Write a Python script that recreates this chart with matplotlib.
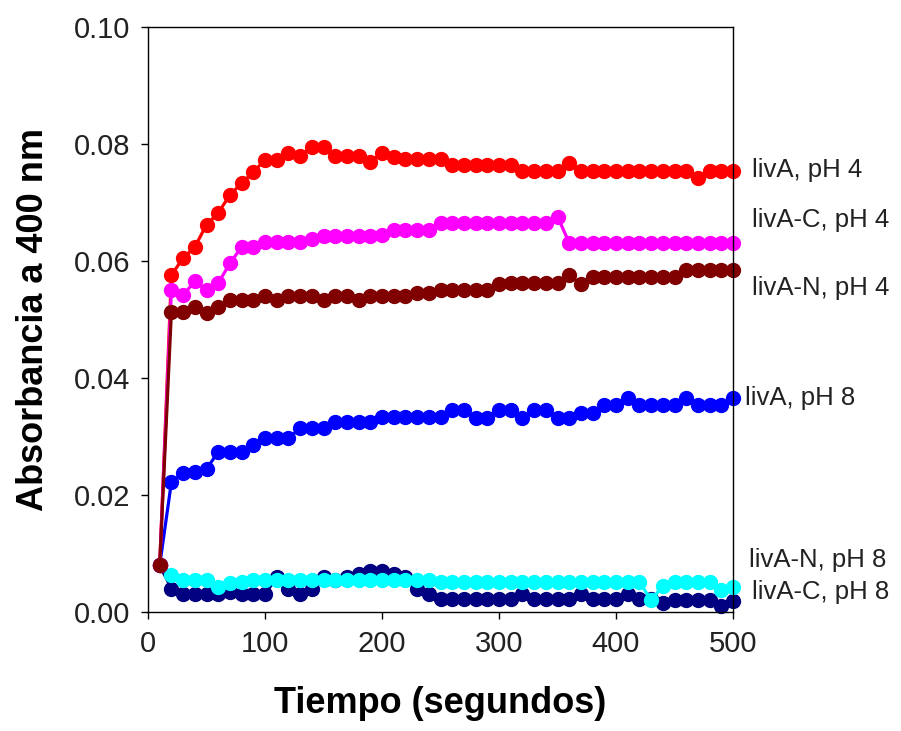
import numpy as np
import matplotlib
matplotlib.use("Agg")
import matplotlib.pyplot as plt

plt.rcParams['font.family'] = ['Liberation Sans', 'DejaVu Sans']

# tiempo en segundos, una lectura cada 10 s
tiempo = np.arange(10, 501, 10)

livA_pH4 = [0.008, 0.0576, 0.0605, 0.0624, 0.0662, 0.0682, 0.0713, 0.0733, 0.0752, 0.0773,
            0.0773, 0.0785, 0.0780, 0.0795, 0.0795, 0.0780, 0.0780, 0.0780, 0.0769, 0.0785,
            0.0777, 0.0775, 0.0775, 0.0775, 0.0775, 0.0764, 0.0764, 0.0764, 0.0764, 0.0764,
            0.0764, 0.0753, 0.0753, 0.0753, 0.0753, 0.0767, 0.0753, 0.0753, 0.0753, 0.0753,
            0.0753, 0.0753, 0.0753, 0.0753, 0.0753, 0.0753, 0.0742, 0.0753, 0.0753, 0.0753]

livA_C_pH4 = [0.008, 0.0550, 0.0542, 0.0565, 0.0550, 0.0562, 0.0596, 0.0624, 0.0624, 0.0633,
              0.0633, 0.0633, 0.0633, 0.0638, 0.0642, 0.0642, 0.0642, 0.0642, 0.0642, 0.0645,
              0.0653, 0.0653, 0.0653, 0.0653, 0.0665, 0.0665, 0.0665, 0.0665, 0.0665, 0.0665,
              0.0665, 0.0665, 0.0665, 0.0665, 0.0676, 0.0631, 0.0631, 0.0631, 0.0631, 0.0631,
              0.0631, 0.0631, 0.0631, 0.0631, 0.0631, 0.0631, 0.0631, 0.0631, 0.0631, 0.0631]

livA_N_pH4 = [0.008, 0.0513, 0.0513, 0.0522, 0.0511, 0.0522, 0.0533, 0.0533, 0.0533, 0.0540,
              0.0533, 0.0540, 0.0540, 0.0540, 0.0533, 0.0540, 0.0540, 0.0533, 0.0540, 0.0540,
              0.0540, 0.0540, 0.0545, 0.0545, 0.0550, 0.0550, 0.0550, 0.0550, 0.0550, 0.0560,
              0.0563, 0.0563, 0.0563, 0.0563, 0.0563, 0.0576, 0.0560, 0.0573, 0.0573, 0.0573,
              0.0573, 0.0573, 0.0573, 0.0573, 0.0573, 0.0585, 0.0585, 0.0585, 0.0585, 0.0585]

livA_pH8 = [0.008, 0.0222, 0.0238, 0.0240, 0.0244, 0.0274, 0.0274, 0.0274, 0.0285, 0.0297,
            0.0297, 0.0297, 0.0314, 0.0314, 0.0314, 0.0325, 0.0325, 0.0325, 0.0325, 0.0334,
            0.0334, 0.0334, 0.0334, 0.0334, 0.0333, 0.0345, 0.0345, 0.0331, 0.0331, 0.0345,
            0.0345, 0.0331, 0.0345, 0.0345, 0.0331, 0.0331, 0.0340, 0.0340, 0.0354, 0.0354,
            0.0366, 0.0354, 0.0354, 0.0354, 0.0354, 0.0366, 0.0354, 0.0354, 0.0354, 0.0366]

livA_C_pH8 = [0.008, 0.0040, 0.0030, 0.0030, 0.0030, 0.0030, 0.0035, 0.0030, 0.0030, 0.0030,
              0.0060, 0.0040, 0.0030, 0.0040, 0.0060, 0.0055, 0.0060, 0.0065, 0.0070, 0.0070,
              0.0065, 0.0060, 0.0040, 0.0030, 0.0022, 0.0022, 0.0022, 0.0022, 0.0022, 0.0022,
              0.0022, 0.0030, 0.0022, 0.0022, 0.0022, 0.0022, 0.0030, 0.0022, 0.0022, 0.0022,
              0.0030, 0.0022, 0.0022, 0.0015, 0.0020, 0.0020, 0.0020, 0.0020, 0.0010, 0.0018]

livA_N_pH8 = [0.008, 0.0063, 0.0055, 0.0055, 0.0055, 0.0043, 0.0050, 0.0052, 0.0055, 0.0055,
              0.0055, 0.0055, 0.0055, 0.0055, 0.0055, 0.0055, 0.0055, 0.0055, 0.0055, 0.0055,
              0.0055, 0.0055, 0.0055, 0.0055, 0.0052, 0.0052, 0.0052, 0.0052, 0.0052, 0.0052,
              0.0052, 0.0052, 0.0052, 0.0052, 0.0052, 0.0052, 0.0052, 0.0052, 0.0052, 0.0052,
              0.0052, 0.0052, 0.0020, 0.0045, 0.0052, 0.0052, 0.0052, 0.0052, 0.0038, 0.0042]

# orden de dibujo: la curva roja oscura queda encima
series = [
    (livA_C_pH8, '#000080', 'livA-C, pH 8', 0.0034, 516),
    (livA_N_pH8, '#00FFFF', 'livA-N, pH 8', 0.0089, 514),
    (livA_pH8, '#0000FF', 'livA, pH 8', 0.0366, 510),
    (livA_pH4, '#FF0000', 'livA, pH 4', 0.0755, 516),
    (livA_C_pH4, '#FF00FF', 'livA-C, pH 4', 0.0670, 516),
    (livA_N_pH4, '#800000', 'livA-N, pH 4', 0.0554, 516),
]

fig = plt.figure(figsize=(9.01, 7.31), dpi=100)
ax = fig.add_axes([148 / 901, 119 / 731, 585 / 901, 585 / 731])

for y, color, label, ly, lx in series:
    ax.plot(tiempo, y, '-o', color=color, lw=2.3, ms=10, mec=color, clip_on=False)
    ax.text(lx, ly, label, fontsize=18.5, va='center', ha='left', color='#222222',
            clip_on=False)

ax.set_xlim(0, 500)
ax.set_ylim(0, 0.10)
ax.set_xticks([0, 100, 200, 300, 400, 500])
ax.set_yticks([0.00, 0.02, 0.04, 0.06, 0.08, 0.10])
ax.set_yticklabels(['0.00', '0.02', '0.04', '0.06', '0.08', '0.10'])
ax.tick_params(direction='out', length=5, width=1, labelsize=21, pad=8,
               labelcolor='#222222')
for s in ax.spines.values():
    s.set_linewidth(1)
    s.set_zorder(5)

ax.set_xlabel('Tiempo (segundos)', fontsize=26, fontweight='bold', labelpad=20)
ax.set_ylabel('Absorbancia a 400 nm', fontsize=26, fontweight='bold', labelpad=16)

fig.savefig('out.png', dpi=100)
